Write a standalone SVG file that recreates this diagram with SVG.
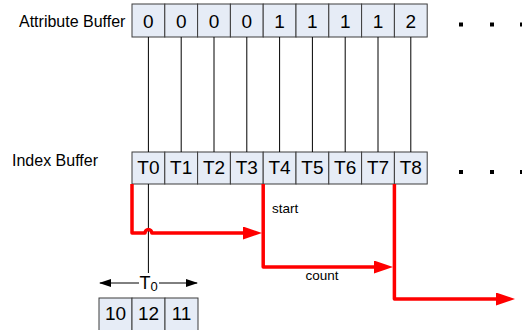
<svg xmlns="http://www.w3.org/2000/svg" width="522" height="330" viewBox="0 0 522 330">
<defs>
<style>
.cell{fill:#e6ecf6;stroke:#3c3c3c;stroke-width:1}
.num{font-family:"Liberation Sans",Arial,sans-serif;font-size:19px;fill:#000;text-anchor:middle}
.lbl{font-family:"Liberation Sans",Arial,sans-serif;font-size:16px;fill:#000}
.small{font-family:"Liberation Sans",Arial,sans-serif;font-size:13.5px;fill:#000}
.link{stroke:#000;stroke-width:1;fill:none}
.red{stroke:#ff0000;stroke-width:3.5;fill:none;stroke-linejoin:round;marker-end:url(#redArrow)}
.dot{fill:#000}
</style>
<marker id="redArrow" markerUnits="userSpaceOnUse" markerWidth="20" markerHeight="14" refX="4" refY="6.5" orient="auto">
<path d="M0,0 L19,6.5 L0,13 z" fill="#ff0000"/>
</marker>
<marker id="blkArrow" markerUnits="userSpaceOnUse" markerWidth="12" markerHeight="9" refX="11" refY="4" orient="auto">
<path d="M0,0 L12,4 L0,8 z" fill="#000"/>
</marker>
</defs>

<g id="attribute-label"><text class="lbl" x="19" y="27">Attribute Buffer</text></g>
<g id="index-label"><text class="lbl" x="12" y="166">Index Buffer</text></g>

<g id="attribute-buffer">
<rect class="cell" x="132" y="4" width="32.8" height="33"/>
<rect class="cell" x="164.8" y="4" width="32.8" height="33"/>
<rect class="cell" x="197.6" y="4" width="32.8" height="33"/>
<rect class="cell" x="230.4" y="4" width="32.8" height="33"/>
<rect class="cell" x="263.2" y="4" width="32.8" height="33"/>
<rect class="cell" x="296" y="4" width="32.8" height="33"/>
<rect class="cell" x="328.8" y="4" width="32.8" height="33"/>
<rect class="cell" x="361.6" y="4" width="32.8" height="33"/>
<rect class="cell" x="394.4" y="4" width="32.8" height="33"/>
<text class="num" x="148.4" y="28">0</text>
<text class="num" x="181.2" y="28">0</text>
<text class="num" x="214" y="28">0</text>
<text class="num" x="246.8" y="28">0</text>
<text class="num" x="279.6" y="28">1</text>
<text class="num" x="312.4" y="28">1</text>
<text class="num" x="345.2" y="28">1</text>
<text class="num" x="378" y="28">1</text>
<text class="num" x="410.8" y="28">2</text>
</g>
<g id="attribute-ellipsis">
<rect class="dot" x="459" y="22.5" width="4" height="4"/>
<rect class="dot" x="490" y="22.5" width="4" height="4"/>
<rect class="dot" x="520" y="22.5" width="4" height="4"/>
</g>

<g id="index-buffer">
<rect class="cell" x="132" y="152" width="32.8" height="32"/>
<rect class="cell" x="164.8" y="152" width="32.8" height="32"/>
<rect class="cell" x="197.6" y="152" width="32.8" height="32"/>
<rect class="cell" x="230.4" y="152" width="32.8" height="32"/>
<rect class="cell" x="263.2" y="152" width="32.8" height="32"/>
<rect class="cell" x="296" y="152" width="32.8" height="32"/>
<rect class="cell" x="328.8" y="152" width="32.8" height="32"/>
<rect class="cell" x="361.6" y="152" width="32.8" height="32"/>
<rect class="cell" x="394.4" y="152" width="32.8" height="32"/>
<text class="num" x="148.4" y="174">T0</text>
<text class="num" x="181.2" y="174">T1</text>
<text class="num" x="214" y="174">T2</text>
<text class="num" x="246.8" y="174">T3</text>
<text class="num" x="279.6" y="174">T4</text>
<text class="num" x="312.4" y="174">T5</text>
<text class="num" x="345.2" y="174">T6</text>
<text class="num" x="378" y="174">T7</text>
<text class="num" x="410.8" y="174">T8</text>
</g>
<g id="index-ellipsis">
<rect class="dot" x="459" y="170" width="4" height="4"/>
<rect class="dot" x="490" y="170" width="4" height="4"/>
<rect class="dot" x="520" y="170" width="4" height="4"/>
</g>

<g id="triangle-buffer">
<rect class="cell" x="99" y="298" width="33" height="33"/>
<rect class="cell" x="132" y="298" width="33" height="33"/>
<rect class="cell" x="165" y="298" width="33" height="33"/>
<text class="num" x="115.5" y="320">10</text>
<text class="num" x="148.5" y="320">12</text>
<text class="num" x="181.5" y="320">11</text>
</g>

<g id="t0-label">
<text font-family="'Liberation Sans',Arial,sans-serif" font-size="18" x="139.5" y="289">T<tspan font-size="13" dy="2">0</tspan></text>
</g>

<g id="connectors">
<path class="link" d="M148.4,37V152"/>
<path class="link" d="M181.2,37V152"/>
<path class="link" d="M214,37V152"/>
<path class="link" d="M246.8,37V152"/>
<path class="link" d="M279.6,37V152"/>
<path class="link" d="M312.4,37V152"/>
<path class="link" d="M345.2,37V152"/>
<path class="link" d="M378,37V152"/>
<path class="link" d="M410.8,37V152"/>
<path class="link" d="M148.4,184V273"/>
<path class="link" d="M139,283H100" marker-end="url(#blkArrow)"/>
<path class="link" d="M159,283H197" marker-end="url(#blkArrow)"/>
<path class="red" d="M132,184V233H145a3.4,3.4 0 0 1 6.8,0H247"/>
<path class="red" d="M263.2,184V267H378"/>
<path class="red" d="M394.4,184V299H500"/>
</g>
<g id="labels">
<text class="small" x="272" y="213">start</text>
<text class="small" x="322" y="280" text-anchor="middle">count</text>
</g>
</svg>
